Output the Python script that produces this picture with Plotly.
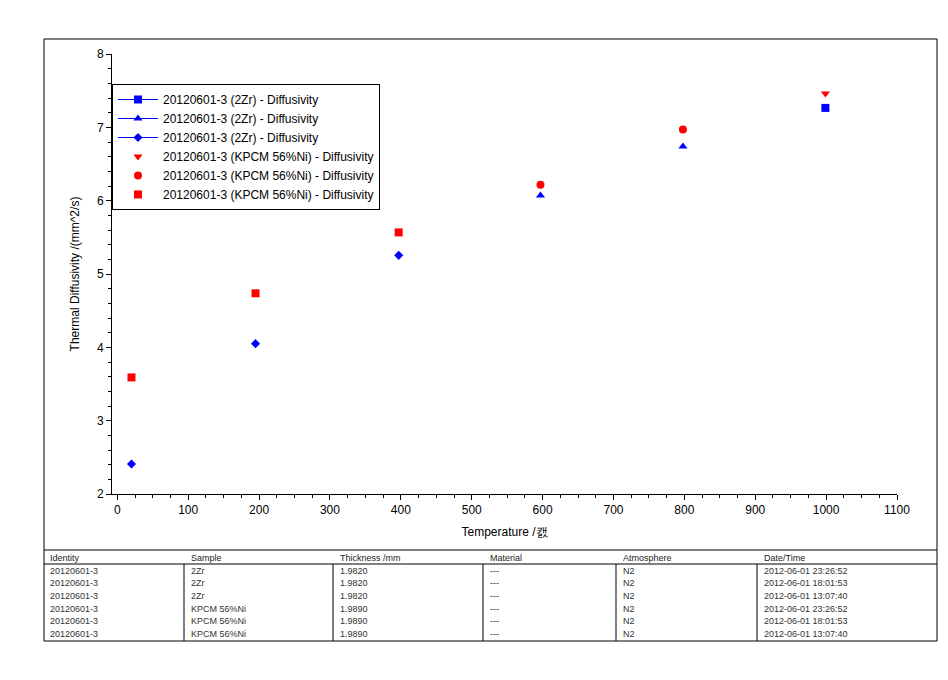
import plotly.graph_objects as go

# ---- data ----
zr_sq_T = [999]
zr_sq_D = [7.265]
zr_tri_T = [597, 798]
zr_tri_D = [6.07, 6.74]
zr_dia_T = [20, 195, 397]
zr_dia_D = [2.41, 4.05, 5.254]

ni_tri_T = [999]
ni_tri_D = [7.46]
ni_cir_T = [597, 798]
ni_cir_D = [6.218, 6.97]
ni_sq_T = [20, 195, 397]
ni_sq_D = [3.59, 4.737, 5.567]

series_names = [
    "20120601-3 (2Zr) - Diffusivity",
    "20120601-3 (2Zr) - Diffusivity",
    "20120601-3 (2Zr) - Diffusivity",
    "20120601-3 (KPCM 56%Ni) - Diffusivity",
    "20120601-3 (KPCM 56%Ni) - Diffusivity",
    "20120601-3 (KPCM 56%Ni) - Diffusivity",
]

table_header = ["Identity", "Sample", "Thickness /mm", "Material", "Atmosphere", "Date/Time"]
col_identity = ["20120601-3"] * 6
col_sample = ["2Zr", "2Zr", "2Zr", "KPCM 56%Ni", "KPCM 56%Ni", "KPCM 56%Ni"]
col_thick = ["1.9820", "1.9820", "1.9820", "1.9890", "1.9890", "1.9890"]
col_material = ["---"] * 6
col_atmos = ["N2"] * 6
col_date = ["2012-06-01 23:26:52", "2012-06-01 18:01:53", "2012-06-01 13:07:40",
            "2012-06-01 23:26:52", "2012-06-01 18:01:53", "2012-06-01 13:07:40"]

x_ticks = list(range(0, 1101, 100))
y_ticks = [2, 3, 4, 5, 6, 7, 8]

# ---- layout geometry (pixels) ----
W, H = 948, 680
L, R, T, B = 112, 897, 54, 494


def px(xp):
    return (xp - L) / (R - L)


def py(yp):
    return (B - yp) / (B - T)


def gapped(vals):
    out = []
    for v in vals:
        out += [v, None]
    return out


BLUE = "#0000FF"
RED = "#FF0000"

fig = go.Figure()

blue_sets = [(zr_sq_T, zr_sq_D, "square", 8), (zr_tri_T, zr_tri_D, "triangle-up", 8),
             (zr_dia_T, zr_dia_D, "diamond", 7)]
for i, (tx, ty, sym, sz) in enumerate(blue_sets):
    fig.add_trace(go.Scatter(
        x=gapped(tx), y=gapped(ty), mode="lines+markers", name=series_names[i],
        connectgaps=False,
        line=dict(color=BLUE, width=1),
        marker=dict(symbol=sym, color=BLUE, size=sz),
    ))

red_sets = [(ni_tri_T, ni_tri_D, "triangle-down"), (ni_cir_T, ni_cir_D, "circle"),
            (ni_sq_T, ni_sq_D, "square")]
for i, (tx, ty, sym) in enumerate(red_sets):
    fig.add_trace(go.Scatter(
        x=tx, y=ty, mode="markers", name=series_names[3 + i],
        marker=dict(symbol=sym, color=RED, size=8),
    ))

FONT = "Liberation Sans, Arial, sans-serif"

shapes = []
# outer frame
shapes.append(dict(type="rect", xref="paper", yref="paper",
                   x0=px(44), x1=px(937), y0=py(641), y1=py(39),
                   line=dict(color="black", width=1)))
# chart / table separator
shapes.append(dict(type="line", xref="paper", yref="paper",
                   x0=px(44), x1=px(937), y0=py(550), y1=py(550),
                   line=dict(color="black", width=1)))
# header underline
shapes.append(dict(type="line", xref="paper", yref="paper",
                   x0=px(44), x1=px(937), y0=py(564), y1=py(564),
                   line=dict(color="black", width=1)))
col_sep = [184, 333, 483, 616, 757]
for cx in col_sep:
    shapes.append(dict(type="line", xref="paper", yref="paper",
                       x0=px(cx), x1=px(cx), y0=py(564), y1=py(641),
                       line=dict(color="black", width=1)))

annotations = []
col_x = [48, 189, 338, 488, 621, 762]
columns = [col_identity, col_sample, col_thick, col_material, col_atmos, col_date]
for cx, h in zip(col_x, table_header):
    annotations.append(dict(xref="paper", yref="paper", x=px(cx), y=py(557.5),
                            text=h, showarrow=False, xanchor="left", yanchor="middle",
                            font=dict(family=FONT, size=9, color="#222")))
for ci, (cx, col) in enumerate(zip(col_x, columns)):
    for ri, v in enumerate(col):
        annotations.append(dict(xref="paper", yref="paper", x=px(cx),
                                y=py(570.5 + ri * 12.7),
                                text=v, showarrow=False, xanchor="left", yanchor="middle",
                                font=dict(family=FONT, size=9, color="#333")))

fig.update_layout(
    width=W, height=H,
    margin=dict(l=L, r=W - R, t=T, b=H - B, pad=0),
    paper_bgcolor="white", plot_bgcolor="white",
    font=dict(family=FONT, size=12, color="black"),
    showlegend=True,
    legend=dict(x=0, y=py(84), xanchor="left", yanchor="top",
                bgcolor="white", bordercolor="black", borderwidth=1,
                font=dict(family=FONT, size=12, color="black"),
                itemwidth=40, tracegroupgap=0),
    shapes=shapes,
    annotations=annotations,
)

fig.update_xaxes(
    range=[-7.5, 1100], tickvals=x_ticks, ticktext=[str(v) for v in x_ticks],
    showgrid=False, zeroline=False, showline=True, linecolor="black", linewidth=1,
    ticks="outside", ticklen=5, tickcolor="black",
    minor=dict(dtick=25, tick0=0, ticks="outside", ticklen=3, tickcolor="black"),
    tickfont=dict(family=FONT, size=12, color="black"),
    title=dict(text="Temperature /캜", font=dict(family=FONT, size=12, color="black"), standoff=11),
)
fig.update_yaxes(
    range=[2, 8], tickvals=y_ticks, ticktext=[str(v) for v in y_ticks],
    showgrid=False, zeroline=False, showline=True, linecolor="black", linewidth=1,
    ticks="outside", ticklen=5, tickcolor="black",
    minor=dict(dtick=0.2, tick0=2, ticks="outside", ticklen=3, tickcolor="black"),
    tickfont=dict(family=FONT, size=12, color="black"),
    title=dict(text="Thermal Diffusivity /(mm^2/s)", font=dict(family=FONT, size=12, color="black"), standoff=14),
)

fig.write_html("out.html")
